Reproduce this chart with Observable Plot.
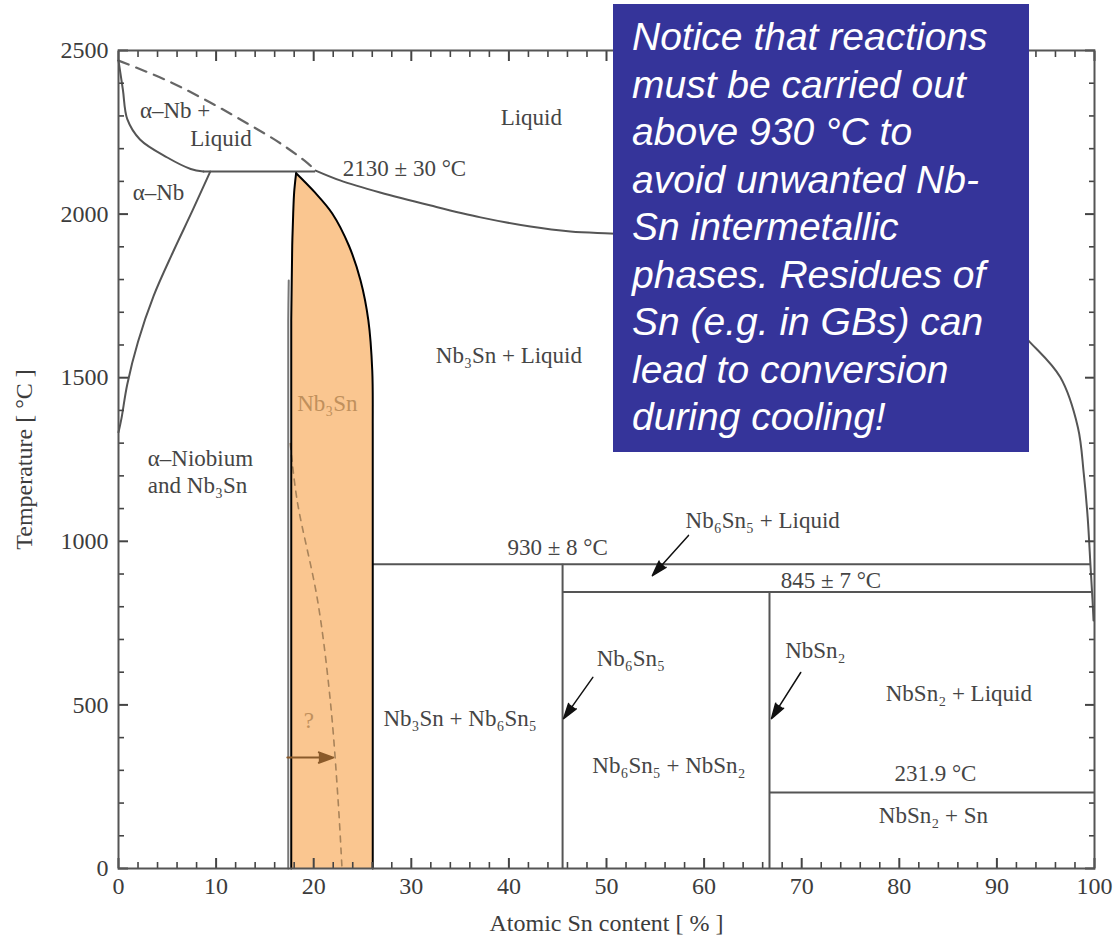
<!DOCTYPE html>
<html><head><meta charset="utf-8">
<script src="https://cdn.jsdelivr.net/npm/d3@7"></script>
<script src="https://cdn.jsdelivr.net/npm/@observablehq/plot@0.6"></script>
<style>
html,body{margin:0;padding:0;background:#fff;}
#wrap{position:relative;width:1116px;height:941px;overflow:hidden;}
#note{position:absolute;left:613px;top:4px;width:416px;height:448px;box-sizing:border-box;padding:9px 0 0 19px;background:#35349a;color:#fff;font:italic 39px/47.5px "Liberation Sans",Arial,sans-serif;white-space:nowrap;}
</style></head><body>
<div id="wrap"><div id="chart"></div>
<div id="note">Notice that reactions<br>must be carried out<br>above 930 °C to<br>avoid unwanted Nb-<br>Sn intermetallic<br>phases. Residues of<br>Sn (e.g. in GBs) can<br>lead to conversion<br>during cooling!</div></div>
<script>
// ---- data (x = atomic % Sn, t = temperature °C) ----
const xTicks = [0,10,20,30,40,50,60,70,80,90,100];
const yTicks = [0,500,1000,1500,2000,2500];
const xMinor = d3.range(0,101,2).filter(d => d % 10 !== 0);
const yMinor = d3.range(0,2501,100).filter(d => d % 500 !== 0);

// alpha-Nb solidus (upper boundary of alpha-Nb + Liquid region)
const solidusNbX = [0, 0.45, 0.9, 2.2, 5.0, 7.4, 8.7];
const solidusNbT = [2469, 2380, 2290, 2228, 2173, 2138, 2130];
// dashed liquidus from Nb melting point to peritectic
const dashLiqX = [0, 5.0, 9.4, 13.2, 16.6, 19.4, 20.2];
const dashLiqT = [2469, 2408, 2341, 2277, 2216, 2155, 2133];
// alpha-Nb solvus
const solvusX = [9.4, 7.6, 5.6, 3.6, 2.0, 0.9, 0.3, 0];
const solvusT = [2130, 2012, 1885, 1750, 1610, 1480, 1375, 1333];
// liquidus from peritectic to pure Sn
const liqX = [20.2, 22.7, 26.8, 32.0, 37.1, 42.2, 46.3, 50.4, 60, 70, 80, 88, 93.4, 96.5, 98.3, 98.9, 99.3, 99.6, 99.8, 99.9];
const liqT = [2133, 2103, 2066, 2026, 1990, 1962, 1947, 1941, 1930, 1905, 1860, 1760, 1608, 1501, 1348, 1207, 1073, 920, 819, 758];
// Nb3Sn single-phase field
const nb3snT     = [2125, 2067, 2002, 1904, 1797, 1675, 1522, 1339, 1000, 0];
const nb3snLeft  = [18.2, 18.0, 17.9, 17.8, 17.75, 17.7, 17.7, 17.7, 17.7, 17.7];
const nb3snRight = [18.2, 20.1, 21.9, 23.6, 24.8, 25.6, 26.0, 26.05, 26.05, 26.05];
// uncertain (dashed) boundary inside Nb3Sn
const nb3snDashX = [17.6, 18.3, 20.4, 21.7, 22.5, 22.9];
const nb3snDashT = [1299, 1125, 819, 513, 208, 0];
// invariant (horizontal) lines
const invT  = [2130, 930, 845, 231.9];
const invX1 = [8.7, 26.05, 45.5, 66.7];
const invX2 = [20.2, 99.6, 99.7, 100];
// line compounds (vertical)
const vertX  = [45.5, 66.7];
const vertT2 = [930, 845];
// arrows
const arrowX1 = [58.4, 48.6, 69.9];
const arrowT1 = [1018, 584, 599];
const arrowX2 = [54.7, 45.6, 66.9];
const arrowT2 = [895, 458, 458];
const brownArrow = [{x1: 17.3, t1: 339, x2: 22.0, t2: 339}];
// labels
const labelText = ["α–Nb +", "Liquid", "Liquid", "2130 ± 30 °C", "α–Nb", "Nb₃Sn + Liquid",
  "α–Niobium", "and Nb₃Sn", "930 ± 8 °C", "Nb₆Sn₅ + Liquid", "845 ± 7 °C", "Nb₆Sn₅", "NbSn₂",
  "NbSn₂ + Liquid", "Nb₃Sn + Nb₆Sn₅", "Nb₆Sn₅ + NbSn₂", "231.9 °C", "NbSn₂ + Sn"];
const labelX = [5.8, 10.5, 42.3, 29.3, 4.1, 40.0, 8.4, 8.1, 45.0, 66.0, 73.0, 52.5, 71.4, 86.1, 35.0, 56.4, 83.7, 83.5];
const labelT = [2317, 2231, 2295, 2139, 2066, 1568, 1253, 1171, 981, 1064, 880, 642, 666, 535, 458, 315, 290, 162];
const tanLabels = [{text: "Nb₃Sn", x: 21.4, t: 1421}, {text: "?", x: 19.5, t: 452}];

// ---- build tables ----
const pts = (X, T) => X.map((x, i) => ({x, t: T[i]}));
const nb3sn = nb3snT.map((t, i) => ({t, l: nb3snLeft[i], r: nb3snRight[i]}));
const inv = invT.map((t, i) => ({t, x1: invX1[i], x2: invX2[i]}));
const verts = vertX.map((x, i) => ({x, t2: vertT2[i]}));
const arrows = arrowX1.map((x1, i) => ({x1, t1: arrowT1[i], x2: arrowX2[i], t2: arrowT2[i]}));
const labels = labelText.map((text, i) => ({text, x: labelX[i], t: labelT[i]}));

const W = 1116, H = 941, mL = 118, mR = 22, mT = 50, mB = 73;
const LINE = "#555", TICK = "#444", TXT = "#454545";

// inward tick marks (negative tick size points into the frame)
const inward = (ticks, size, sw) => [
  Plot.axisX({ticks, anchor: "bottom", tickSize: -size, fill: "none", label: null, stroke: TICK, strokeWidth: sw}),
  Plot.axisX({ticks, anchor: "top", tickSize: -size, fill: "none", label: null, stroke: TICK, strokeWidth: sw})
];
const inwardY = (ticks, size, sw) => [
  Plot.axisY({ticks, anchor: "left", tickSize: -size, fill: "none", label: null, stroke: TICK, strokeWidth: sw}),
  Plot.axisY({ticks, anchor: "right", tickSize: -size, fill: "none", label: null, stroke: TICK, strokeWidth: sw})
];

const chart = Plot.plot({
  width: W, height: H, marginLeft: mL, marginRight: mR, marginTop: mT, marginBottom: mB,
  style: {fontFamily: '"Liberation Serif", "Times New Roman", serif', background: "#fff", color: TXT},
  x: {domain: [0, 100]},
  y: {domain: [0, 2500]},
  marks: [
    Plot.areaX(nb3sn, {y: "t", x1: "l", x2: "r", fill: "#fac690", curve: "catmull-rom"}),
    Plot.line(pts(nb3snDashX, nb3snDashT), {x: "x", y: "t", stroke: "#a8835a", strokeWidth: 1.6, strokeDasharray: "6,6", curve: "catmull-rom"}),
    Plot.line(pts(dashLiqX, dashLiqT), {x: "x", y: "t", stroke: "#666", strokeWidth: 2.2, strokeDasharray: "11,8", curve: "catmull-rom"}),
    Plot.line(pts(solidusNbX, solidusNbT), {x: "x", y: "t", stroke: LINE, strokeWidth: 2, curve: "catmull-rom"}),
    Plot.line(pts(solvusX, solvusT), {x: "x", y: "t", stroke: LINE, strokeWidth: 2, curve: "catmull-rom"}),
    Plot.line(pts(liqX, liqT), {x: "x", y: "t", stroke: LINE, strokeWidth: 2, curve: "catmull-rom"}),
    Plot.ruleY(inv, {y: "t", x1: "x1", x2: "x2", stroke: LINE, strokeWidth: 2}),
    Plot.ruleX(verts, {x: "x", y1: 0, y2: "t2", stroke: LINE, strokeWidth: 2}),
    Plot.line(nb3sn.slice(4), {x: "l", y: "t", stroke: "#777", strokeWidth: 2, dx: -3, curve: "catmull-rom"}),
    Plot.line(nb3sn, {x: "l", y: "t", stroke: "#000", strokeWidth: 2, curve: "catmull-rom"}),
    Plot.line(nb3sn, {x: "r", y: "t", stroke: "#000", strokeWidth: 2, curve: "catmull-rom"}),
    Plot.arrow(arrows, {x1: "x1", y1: "t1", x2: "x2", y2: "t2", stroke: "#111", fill: "#111", strokeWidth: 1.5, headLength: 16, headAngle: 34}),
    Plot.arrow(brownArrow, {x1: "x1", y1: "t1", x2: "x2", y2: "t2", stroke: "#8a5a2a", fill: "#8a5a2a", strokeWidth: 2, headLength: 14, headAngle: 40}),
    Plot.text(labels, {x: "x", y: "t", text: "text", fontSize: 23, fill: TXT}),
    Plot.text(tanLabels, {x: "x", y: "t", text: "text", fontSize: 23, fill: "#c0905c"}),
    ...inward(xTicks, 10, 2),
    ...inward(xMinor, 6, 1.6),
    ...inwardY(yTicks, 10, 2),
    ...inwardY(yMinor, 6, 1.6),
    Plot.frame({stroke: LINE, strokeWidth: 2}),
    Plot.axisX({ticks: xTicks, tickSize: 0, tickPadding: 8, fontSize: 24, fill: "#3c3c3c", tickFormat: "d",
      label: "Atomic Sn content [ % ]", labelAnchor: "center", labelOffset: 62, labelArrow: "none"}),
    Plot.axisY({ticks: yTicks, tickSize: 0, tickPadding: 10, fontSize: 24, fill: "#3c3c3c", tickFormat: "d",
      label: "Temperature [ °C ]", labelAnchor: "center", labelOffset: 104, labelArrow: "none"})
  ]
});
document.getElementById("chart").appendChild(chart);
</script>
</body></html>
